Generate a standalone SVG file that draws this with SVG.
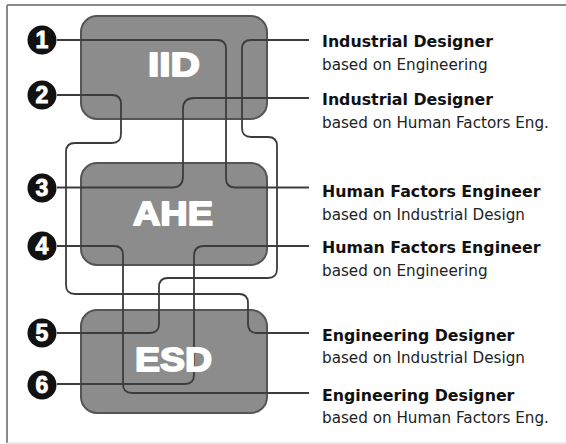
<svg xmlns="http://www.w3.org/2000/svg" width="566" height="444" viewBox="0 0 566 444">
<style>
.box{fill:#8c8c8c;stroke:#555;stroke-width:2}
.blbl{fill:#fff;stroke:#fff;stroke-width:1.8;stroke-linejoin:round;font-family:"Liberation Sans",Arial,sans-serif;font-weight:bold;font-size:34px;text-anchor:middle}
.num{fill:#111}
.ntxt{fill:#fff;font-family:"Liberation Sans",Arial,sans-serif;font-weight:bold;font-size:23px;text-anchor:middle;stroke:#fff;stroke-width:0.9}
.conn{fill:none;stroke:#3c3c3c;stroke-width:1.8}
.t1{font-family:"DejaVu Sans",Verdana,sans-serif;font-weight:bold;font-size:15.8px;fill:#111}
.t2{font-family:"DejaVu Sans",Verdana,sans-serif;font-size:15.2px;fill:#222}
</style>
<rect x="0" y="0" width="566" height="444" fill="#fff"/>
<line x1="7" y1="5" x2="566" y2="5" stroke="#8a8a8a" stroke-width="2"/>
<line x1="7" y1="5" x2="7" y2="443" stroke="#8a8a8a" stroke-width="2"/>
<line x1="7" y1="443" x2="566" y2="443" stroke="#d4d4d4" stroke-width="1"/>

<g id="IID"><rect class="box" x="81" y="16" width="186" height="103" rx="16"/></g>
<g id="AHE"><rect class="box" x="81" y="163" width="186" height="102" rx="16"/></g>
<g id="ESD"><rect class="box" x="81" y="310" width="186" height="103" rx="16"/></g>

<g id="connectors">
<path class="conn" d="M57,40 H217 Q226,40 226,49 V178 Q226,187.5 235,187.5 H309"/>
<path class="conn" d="M309,40 H251 Q242,40 242,49 V128 Q242,137 251,137 H268 Q277,137 277,146 V269 Q277,278 268,278 H168 Q159,278 159,287 V324 Q159,333 150,333 H57"/>
<path class="conn" d="M57,95 H112 Q121,95 121,104 V134 Q121,143 112,143 H75 Q66,143 66,152 V285 Q66,294 75,294 H239 Q248,294 248,303 V324 Q248,333 257,333 H309"/>
<path class="conn" d="M309,98 H194 Q183,98 183,109 V176.5 Q183,187.5 172,187.5 H57"/>
<path class="conn" d="M57,246 H114 Q123,246 123,255 V384 Q123,393 132,393 H309"/>
<path class="conn" d="M309,246 H204 Q194,246 194,256 V375 Q194,384 185,384 H57"/>
</g>

<g id="IID-label"><text class="blbl" x="174" y="76" textLength="52" lengthAdjust="spacingAndGlyphs">IID</text></g>
<g id="AHE-label"><text class="blbl" x="173" y="225" textLength="80" lengthAdjust="spacingAndGlyphs">AHE</text></g>
<g id="ESD-label"><text class="blbl" x="173.5" y="371" textLength="77" lengthAdjust="spacingAndGlyphs">ESD</text></g>

<g id="n1"><circle class="num" cx="42" cy="40" r="14.5"/><text class="ntxt" x="42" y="48">1</text></g>
<g id="n2"><circle class="num" cx="42" cy="95" r="14.5"/><text class="ntxt" x="42" y="103">2</text></g>
<g id="n3"><circle class="num" cx="42" cy="188" r="14.5"/><text class="ntxt" x="42" y="196">3</text></g>
<g id="n4"><circle class="num" cx="42" cy="246" r="14.5"/><text class="ntxt" x="42" y="254">4</text></g>
<g id="n5"><circle class="num" cx="42" cy="333" r="14.5"/><text class="ntxt" x="42" y="341">5</text></g>
<g id="n6"><circle class="num" cx="42" cy="385" r="14.5"/><text class="ntxt" x="42" y="393">6</text></g>

<g id="label1"><text class="t1" x="322" y="47">Industrial Designer</text><text class="t2" x="322" y="70">based on Engineering</text></g>
<g id="label2"><text class="t1" x="322" y="105">Industrial Designer</text><text class="t2" x="322" y="128">based on Human Factors Eng.</text></g>
<g id="label3"><text class="t1" x="322" y="197">Human Factors Engineer</text><text class="t2" x="322" y="220">based on Industrial Design</text></g>
<g id="label4"><text class="t1" x="322" y="253">Human Factors Engineer</text><text class="t2" x="322" y="276">based on Engineering</text></g>
<g id="label5"><text class="t1" x="322" y="341">Engineering Designer</text><text class="t2" x="322" y="363">based on Industrial Design</text></g>
<g id="label6"><text class="t1" x="322" y="401">Engineering Designer</text><text class="t2" x="322" y="423">based on Human Factors Eng.</text></g>
</svg>
